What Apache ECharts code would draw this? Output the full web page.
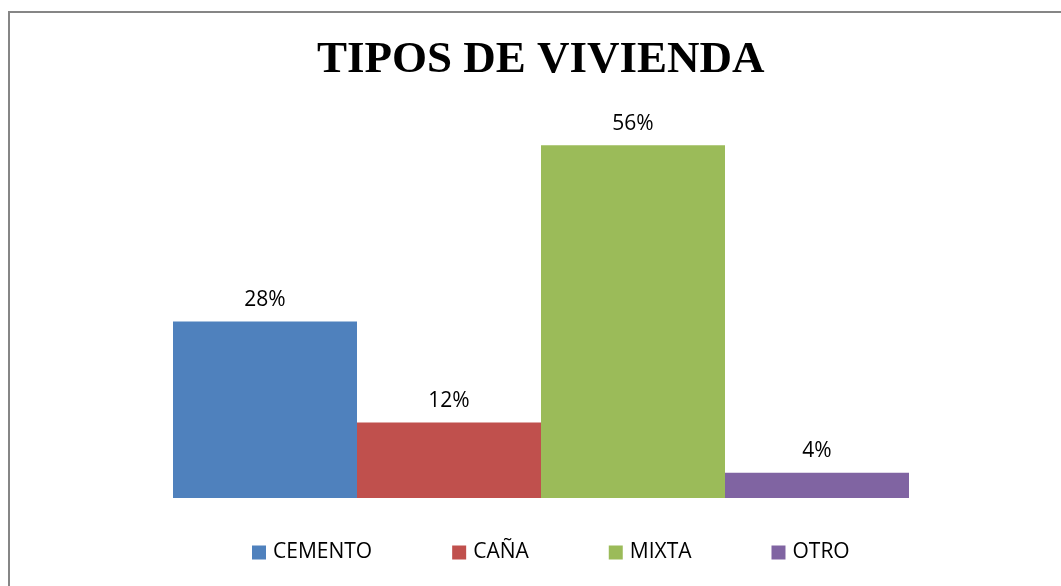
<!DOCTYPE html>
<html><head><meta charset="utf-8">
<script src="https://cdn.jsdelivr.net/npm/echarts@6/dist/echarts.min.js"></script>
<style>html,body{margin:0;padding:0;background:#fff}#c{width:1061px;height:586px}</style>
</head><body><div id="c"></div>
<script>
const titleText = 'TIPOS DE VIVIENDA';
const categories = ['CEMENTO', 'CAÑA', 'MIXTA', 'OTRO'];
const values = [28, 12, 56, 4];
const colors = ['#4F81BD', '#C0504D', '#9BBB59', '#8064A2'];

const chart = echarts.init(document.getElementById('c'));
chart.setOption({
  animation: false,
  backgroundColor: '#fff',
  title: {
    text: titleText, left: 312, top: 33,
    textStyle: { fontFamily: 'Liberation Serif', fontWeight: 'bold', fontSize: 45, color: '#000' }
  },
  graphic: [{
    type: 'rect', shape: { x: 9, y: 12, width: 1100, height: 620 },
    style: { fill: 'none', stroke: '#868686', lineWidth: 2 }, silent: true
  }],
  legend: {
    top: 537, left: 247, itemWidth: 14, itemHeight: 14, itemGap: 80,
    icon: 'rect',
    textStyle: { fontFamily: 'Open Sans', fontSize: 21, color: '#000', padding: [0, 0, 0, 2] },
    data: categories
  },
  grid: { left: 173, right: 152, top: 120, bottom: 88 },
  xAxis: { type: 'category', data: [''], show: false },
  yAxis: { type: 'value', min: 0, max: 60, show: false },
  series: categories.map((name, i) => ({
    name, type: 'bar', data: [values[i]],
    barGap: '0%', barCategoryGap: '0%',
    itemStyle: { color: colors[i] },
    label: {
      show: true, position: 'top', distance: 11, formatter: v => v.value + '%',
      fontFamily: 'Open Sans', fontSize: 21, color: '#000'
    }
  }))
});
</script></body></html>
